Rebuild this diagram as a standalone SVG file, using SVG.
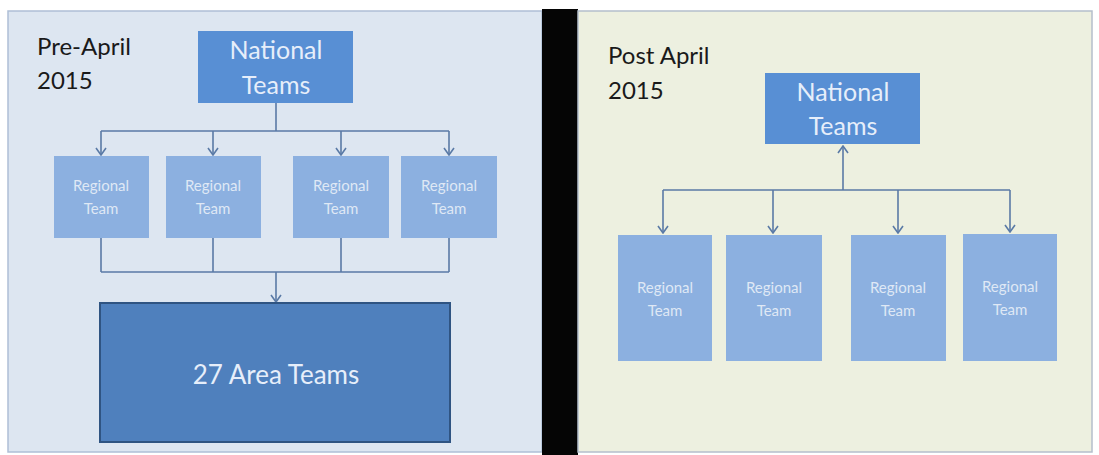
<svg xmlns="http://www.w3.org/2000/svg" width="1099" height="455" viewBox="0 0 1099 455">
<defs>
<marker id="ah" viewBox="0 0 12 12" refX="11" refY="6" markerWidth="12" markerHeight="12" markerUnits="userSpaceOnUse" orient="auto">
<path d="M4,1 L11,6 L4,11" fill="none" stroke="#5a7aa6" stroke-width="1.6"/>
</marker>
<style>
.title{font-family:Lato,"Open Sans","Liberation Sans",sans-serif;font-size:24px;fill:#1a1a1a}
.nat{fill:#588fd4}
.natt{font-family:Lato,"Open Sans","Liberation Sans",sans-serif;font-size:25px;fill:#e6eefa;text-anchor:middle}
.reg{fill:#8cb0e0}
.regt{font-family:Lato,"Open Sans","Liberation Sans",sans-serif;font-size:15px;fill:#dfe8f5;text-anchor:middle}
.con{fill:none;stroke:#5a7aa6;stroke-width:1.6}
</style>
</defs>
<rect width="1099" height="455" fill="#ffffff"/>
<g id="panel-left">
<rect x="8" y="11" width="534" height="441" fill="#dde6f1" stroke="#aebfd6" stroke-width="1.5"/>
<text class="title" x="37" y="55">Pre-April</text>
<text class="title" x="37" y="89">2015</text>
</g>
<rect id="divider" x="542" y="9" width="36" height="446" fill="#050505"/>
<g id="panel-right">
<rect x="578" y="11" width="514" height="441" fill="#edf0e0" stroke="#b4bfcc" stroke-width="1.5"/>
<text class="title" x="608" y="64">Post April</text>
<text class="title" x="608" y="99">2015</text>
</g>
<g id="connectors">
<path class="con" d="M276,103 V131 M101,131 H449"/>
<path class="con" d="M101,131 V155" marker-end="url(#ah)"/>
<path class="con" d="M213,131 V155" marker-end="url(#ah)"/>
<path class="con" d="M341,131 V155" marker-end="url(#ah)"/>
<path class="con" d="M449,131 V155" marker-end="url(#ah)"/>
<path class="con" d="M101,238 V272 M213,238 V272 M341,238 V272 M449,238 V272 M101,272 H449"/>
<path class="con" d="M276,272 V302" marker-end="url(#ah)"/>
<path class="con" d="M663,190 H1010"/>
<path class="con" d="M843,190 V146" marker-end="url(#ah)"/>
<path class="con" d="M663,190 V233" marker-end="url(#ah)"/>
<path class="con" d="M773,190 V233" marker-end="url(#ah)"/>
<path class="con" d="M898,190 V233" marker-end="url(#ah)"/>
<path class="con" d="M1010,190 V232" marker-end="url(#ah)"/>
</g>
<g id="national-left">
<rect class="nat" x="198" y="31" width="155" height="72"/>
<text class="natt" x="276" y="59">National</text>
<text class="natt" x="276" y="94">Teams</text>
</g>
<g id="regional-l1"><rect class="reg" x="54" y="156" width="95" height="82"/><text class="regt" x="101" y="191">Regional</text><text class="regt" x="101" y="214">Team</text></g>
<g id="regional-l2"><rect class="reg" x="166" y="156" width="95" height="82"/><text class="regt" x="213" y="191">Regional</text><text class="regt" x="213" y="214">Team</text></g>
<g id="regional-l3"><rect class="reg" x="293" y="156" width="96" height="82"/><text class="regt" x="341" y="191">Regional</text><text class="regt" x="341" y="214">Team</text></g>
<g id="regional-l4"><rect class="reg" x="401" y="156" width="96" height="82"/><text class="regt" x="449" y="191">Regional</text><text class="regt" x="449" y="214">Team</text></g>
<g id="area-teams">
<rect x="100" y="303" width="350" height="139" fill="#4f80bd" stroke="#2f5482" stroke-width="2"/>
<text class="natt" x="276" y="384" style="font-size:26px">27 Area Teams</text>
</g>
<g id="national-right">
<rect class="nat" x="765" y="73" width="155" height="71"/>
<text class="natt" x="843" y="101">National</text>
<text class="natt" x="843" y="135">Teams</text>
</g>
<g id="regional-r1"><rect class="reg" x="618" y="235" width="94" height="126"/><text class="regt" x="665" y="293">Regional</text><text class="regt" x="665" y="316">Team</text></g>
<g id="regional-r2"><rect class="reg" x="726" y="235" width="96" height="126"/><text class="regt" x="774" y="293">Regional</text><text class="regt" x="774" y="316">Team</text></g>
<g id="regional-r3"><rect class="reg" x="851" y="235" width="95" height="126"/><text class="regt" x="898" y="293">Regional</text><text class="regt" x="898" y="316">Team</text></g>
<g id="regional-r4"><rect class="reg" x="963" y="234" width="94" height="127"/><text class="regt" x="1010" y="292">Regional</text><text class="regt" x="1010" y="315">Team</text></g>
</svg>
